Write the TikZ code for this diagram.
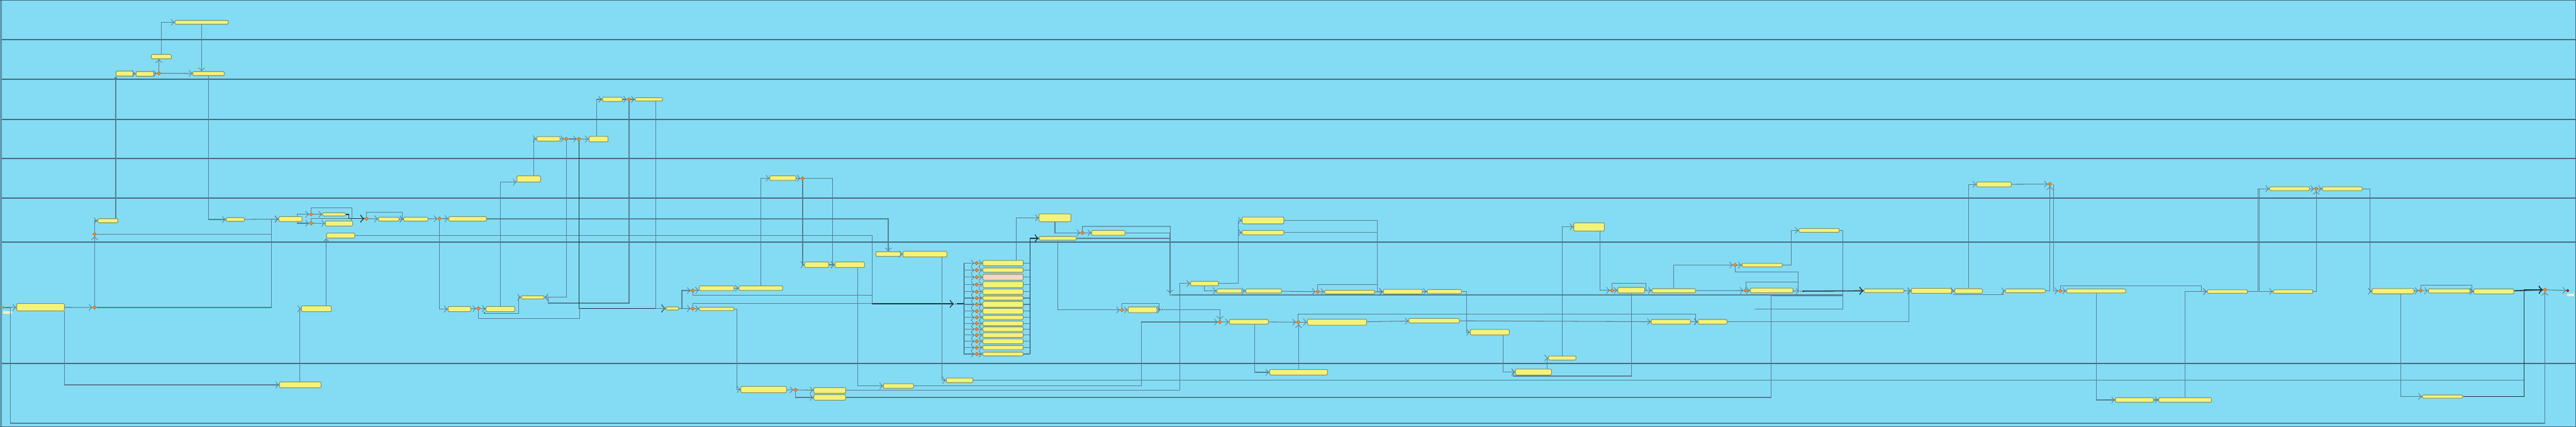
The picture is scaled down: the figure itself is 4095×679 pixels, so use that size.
\documentclass[tikz,border=0pt]{standalone}
\usetikzlibrary{shapes.geometric}
\definecolor{lanebg}{RGB}{132,220,244}
\definecolor{laneline}{RGB}{70,110,130}
\definecolor{flowc}{RGB}{88,128,148}
\definecolor{flowdark}{RGB}{35,55,65}
\definecolor{taskfill}{RGB}{243,243,122}
\definecolor{taskline}{RGB}{135,145,95}
\definecolor{gwfill}{RGB}{246,142,42}
\definecolor{gwline}{RGB}{190,100,30}
\definecolor{pinkfill}{RGB}{250,212,192}
\definecolor{lblfill}{RGB}{250,238,190}
\tikzset{
	task/.style={draw=taskline, fill=taskfill, rounded corners=0.2mm, line width=0.3pt, inner sep=0pt, minimum height=0.75mm},
	gw/.style={diamond, draw=gwline, fill=gwfill, line width=0.2pt, inner sep=0pt, minimum size=0.6mm},
	junc/.style={diamond, fill=gray, inner sep=0pt, minimum size=0.35mm},
	flowline/.style={draw=flowc, line width=0.3pt},
	flow/.style={flowline, ->},
	flowb/.style={draw=flowdark, line width=0.45pt},
	lane/.style={draw=laneline, line width=0.4pt},
	startev/.style={circle, draw=olive, fill=yellow!60!green, line width=0.2pt, inner sep=0pt, minimum size=0.35mm},
	endev/.style={circle, draw=red!60!black, fill=red!70, line width=0.3pt, inner sep=0pt, minimum size=0.35mm},
	evlabel/.style={fill=lblfill, inner sep=0pt, minimum height=0.4mm}
}
\begin{document}
\begin{tikzpicture}[x=0.1mm, y=-0.1mm]
		\useasboundingbox (0,0) rectangle (4095,679);
		%pool and lanes
		\fill[lanebg] (0,0) rectangle (4095,679);
		\foreach \y in {63, 126, 190, 252, 315, 385, 578}{
			\draw[lane] (2.7,\y)--(4095,\y);
		}
		\draw[lane] (0.6,0.6) rectangle (4094.4,678.4);
		\draw[lane] (2.7,0)--(2.7,679);
		
		%events
		\node[startev] (start) at (5.7,489){};
		\node[evlabel, minimum width=1.46mm] (startlbl) at (12,497){};
		\node[endev] (endev) at (4081.7,462.1){};
		\node[evlabel, minimum width=1.1mm] (endlbl) at (4086.7,469.3){};
		
		%tasks, left part
		\node[task, minimum width=8.5mm, minimum height=0.6mm] (a1) at (320.5,35.5){};
		\node[task, minimum width=3.2mm, minimum height=0.7mm] (a2) at (256.5,90){};
		\node[task, minimum width=2.7mm, minimum height=0.8mm] (a3) at (198,117){};
		\node[task, minimum width=2.8mm] (a4) at (230.3,117.5){};
		\node[task, minimum width=5mm, minimum height=0.65mm] (a5) at (331.5,117){};
		\node[task, minimum width=3.2mm, minimum height=0.65mm] (b1) at (171.5,351){};
		\node[task, minimum width=2.9mm, minimum height=0.6mm] (b2) at (374,349){};
		\node[task, minimum width=7.6mm, minimum height=1.16mm] (s1) at (64.5,488.5){};
		\node[task, minimum width=3.7mm, minimum height=0.8mm] (c1) at (461.7,348.3){};
		\node[task, minimum width=3.66mm, minimum height=0.5mm] (c2) at (531,340.8){};
		\node[task, minimum width=4.34mm, minimum height=0.8mm] (c3) at (539,355.3){};
		\node[task, minimum width=3.26mm, minimum height=0.64mm] (c4) at (618,348.5){};
		\node[task, minimum width=3.86mm, minimum height=0.64mm] (c5) at (661,348.5){};
		\node[task, minimum width=6mm, minimum height=0.74mm] (c6) at (743.3,348){};
		\node[task, minimum width=6.6mm, minimum height=0.94mm] (d1) at (477.3,612){};
		\node[task, minimum width=4.74mm, minimum height=0.94mm] (d2) at (503,491){};
		\node[task, minimum width=4.5mm, minimum height=0.8mm] (d3) at (541.5,374.7){};
		\node[task, minimum width=3.6mm, minimum height=0.84mm] (e1) at (730.3,491.5){};
		\node[task, minimum width=4.56mm, minimum height=0.84mm] (e2) at (795.5,491.5){};
		\node[task, minimum width=3.16mm, minimum height=0.66mm] (e3) at (973.5,158){};
		\node[task, minimum width=4.36mm, minimum height=0.54mm] (e4) at (1031.5,158){};
		\node[task, minimum width=3.7mm, minimum height=0.73mm] (e5) at (871.8,220.7){};
		\node[task, minimum width=3.04mm, minimum height=0.87mm] (e6) at (951.5,221.3){};
		\node[task, minimum width=3.76mm, minimum height=0.96mm] (e7) at (840.5,284.5){};
		\node[task, minimum width=3.63mm, minimum height=0.5mm] (e9) at (846.8,472.8){};
		\node[task, minimum width=2.03mm, minimum height=0.5mm] (e10) at (1068.8,490.5){};
		\node[task, minimum width=5.53mm] (e11) at (1139.3,458.3){};
		\node[task, minimum width=6.96mm, minimum height=0.73mm] (f7) at (1209.5,458.3){};
		\node[task, minimum width=5.53mm, minimum height=0.53mm] (e12) at (1139.3,491.3){};
		\node[task, minimum width=4.16mm, minimum height=0.73mm] (f1) at (1244.5,283.3){};
		\node[task, minimum width=3.83mm, minimum height=0.86mm] (f2) at (1298.2,421){};
		\node[task, minimum width=4.7mm, minimum height=0.86mm] (f3) at (1350.8,421){};
		\node[task, minimum width=3.94mm, minimum height=0.74mm] (f4) at (1412,404){};
		\node[task, minimum width=7mm, minimum height=0.9mm] (f5) at (1470.3,404.2){};
		\node[task, minimum width=7.26mm, minimum height=1mm] (h1) at (1214,619.3){};
		\node[task, minimum width=5.06mm, minimum height=0.9mm] (h2) at (1319,620.8){};
		\node[task, minimum width=5.06mm, minimum height=0.86mm] (h3) at (1319,632){};
		\node[task, minimum width=4.8mm, minimum height=0.73mm] (h4) at (1428.3,613.7){};
		\node[task, minimum width=4.24mm, minimum height=0.73mm] (h5) at (1525.5,604.7){};
		
		%tasks, middle part
		\node[task, minimum width=5.06mm, minimum height=1.25mm] (k0) at (1677,346.3){};
		\node[task, minimum width=5.9mm, minimum height=0.6mm] (k1) at (1681.5,379){};
		\node[task, minimum width=5.3mm, minimum height=0.78mm] (k2) at (1761.8,370.3){};
		\node[task, minimum width=4.57mm, minimum height=0.92mm] (k3) at (1816.2,492.6){};
		\node[task, minimum width=4.43mm, minimum height=0.7mm] (k4) at (1914.8,450.9){};
		\node[task, minimum width=3.97mm, minimum height=0.65mm] (k5) at (1954.2,462.7){};
		\node[task, minimum width=6.63mm, minimum height=1.08mm] (m1) at (2007.8,350.6){};
		\node[task, minimum width=6.63mm, minimum height=0.7mm] (m2) at (2007.8,369.9){};
		\node[task, minimum width=5.7mm, minimum height=0.65mm] (m4) at (2008.8,462.7){};
		\node[task, minimum width=7.96mm, minimum height=0.56mm] (m5) at (2145.5,464.5){};
		\node[task, minimum width=6.2mm, minimum height=0.73mm] (m6) at (2230,463.7){};
		\node[task, minimum width=5.46mm, minimum height=0.65mm] (m7) at (2296,463.6){};
		\node[task, minimum width=6.2mm, minimum height=0.87mm] (m8) at (2368.3,528.3){};
		\node[task, minimum width=6.2mm, minimum height=0.74mm] (n1) at (1985.3,511.7){};
		\node[task, minimum width=9.4mm, minimum height=0.95mm] (n2) at (2125.3,512.3){};
		\node[task, minimum width=8.03mm, minimum height=0.73mm] (n3) at (2279.8,510){};
		\node[task, minimum width=9.2mm, minimum height=0.87mm] (n4) at (2064.3,592){};
		\node[task, minimum width=5.73mm, minimum height=0.96mm] (p1) at (2437.7,591.6){};
		\node[task, minimum width=4.4mm, minimum height=0.65mm] (p2) at (2483.3,569.3){};
		\node[task, minimum width=4.86mm, minimum height=1.3mm] (p3) at (2526,360.8){};
		\node[task, minimum width=4.26mm, minimum height=0.9mm] (p4) at (2593,461.5){};
		\node[task, minimum width=6.9mm, minimum height=0.66mm] (p5) at (2660.8,462.3){};
		\node[task, minimum width=6.4mm, minimum height=0.56mm] (q1) at (2801.3,421.6){};
		\node[task, minimum width=6.8mm, minimum height=0.74mm] (q2) at (2816.3,461.9){};
		\node[task, minimum width=6.26mm, minimum height=0.74mm] (r1) at (2656,511.7){};
		\node[task, minimum width=4.6mm, minimum height=0.74mm] (r2) at (2722.3,511.7){};
		\node[task, minimum width=6.43mm, minimum height=0.6mm] (s2) at (2891.8,366.4){};
		
		%tasks, right part
		\node[task, minimum width=6.37mm, minimum height=0.56mm] (t1) at (2994.8,462.3){};
		\node[task, minimum width=6.4mm, minimum height=0.78mm] (t2) at (3070.3,462.5){};
		\node[task, minimum width=4.4mm, minimum height=0.74mm] (t3) at (3129.3,462.7){};
		\node[task, minimum width=6.36mm, minimum height=0.6mm] (t4) at (3219.5,462.5){};
		\node[task, minimum width=5.5mm, minimum height=0.78mm] (u1) at (3169.8,293.2){};
		\node[task, minimum width=9.43mm, minimum height=0.65mm] (v1) at (3332.2,462.7){};
		\node[task, minimum width=6.4mm, minimum height=0.56mm] (v2) at (3540.7,463.6){};
		\node[task, minimum width=6.06mm, minimum height=0.74mm] (w1) at (3393,636){};
		\node[task, minimum width=8.36mm, minimum height=0.74mm] (w2) at (3473.5,636){};
		\node[task, minimum width=6.36mm, minimum height=0.61mm] (x1) at (3639.5,300.1){};
		\node[task, minimum width=6.3mm, minimum height=0.56mm] (x2) at (3645.2,463.6){};
		\node[task, minimum width=6.36mm, minimum height=0.61mm] (x3) at (3723.5,300.1){};
		\node[task, minimum width=6.66mm, minimum height=0.83mm] (y1) at (3804,463.1){};
		\node[task, minimum width=6.6mm, minimum height=0.65mm] (y2) at (3893.3,462.7){};
		\node[task, minimum width=6.37mm, minimum height=0.78mm] (y3) at (3964.2,463.4){};
		\node[task, minimum width=6.43mm, minimum height=0.52mm] (z1) at (3882.8,630.6){};
		
		%gateways
		\node[gw] (g1) at (252.7,116.5){};
		\node[gw] (g2) at (150.4,372.3){};
		\node[gw] (g3) at (150.4,489){};
		\node[gw] (g4) at (494.7,340.7){};
		\node[gw] (g5) at (494.7,355){};
		\node[gw] (g6) at (582.7,347.7){};
		\node[gw] (g7) at (698.7,347.7){};
		\node[gw] (g8) at (760.5,490.5){};
		\node[gw] (g9) at (1000,158){};
		\node[gw] (g10) at (900.3,221){};
		\node[gw] (g11) at (920.3,221){};
		\node[gw] (g12) at (1101.3,462){};
		\node[gw] (g13) at (1101.3,490.7){};
		\node[gw] (g14) at (1276,283.7){};
		\node[gw] (g15) at (1264.7,620){};
		\node[gw] (g16) at (1720.7,370.3){};
		\node[gw] (g17) at (1783.7,492.9){};
		\node[gw] (g18) at (1939.3,512){};
		\node[gw] (g19) at (2094.7,463.8){};
		\node[gw] (g20) at (2063.7,512.3){};
		\node[gw] (g21) at (2562.7,461.7){};
		\node[gw] (g22) at (2758.3,421.4){};
		\node[gw] (g23) at (2775,462){};
		\node[gw] (g24) at (3258.7,292.8){};
		\node[gw] (g25) at (3275.3,462.5){};
		\node[gw] (g26) at (3682,300.1){};
		\node[gw] (g27) at (3848,462.1){};
		\node[gw] (g28) at (4045.7,460.8){};
		\node[junc] (j1) at (1519,483.3){};
		\node[junc] (j2) at (1860,469){};
		\node[junc] (j3) at (1847.7,492.4){};
		\node[junc] (j4) at (2862.7,463){};
		
		%fan of checks
		\foreach \i/\y/\h/\c in {1/418.4/0.87/taskfill, 2/429.5/0.7/taskfill, 3/440.8/0.96/pinkfill, 4/452.6/0.95/taskfill, 5/463.9/0.87/taskfill, 6/474/0.65/taskfill, 7/484/0.91/taskfill, 8/494.8/0.91/taskfill, 9/504.8/0.65/taskfill, 10/514.3/0.74/taskfill, 11/523.4/0.73/taskfill, 12/532.9/0.74/taskfill, 13/542.7/0.77/taskfill, 14/552.7/0.69/taskfill, 15/563/0.6/taskfill}{
			\node[gw] (fg\i) at (1552.7,\y){};
			\node[task, fill=\c, minimum width=6.44mm, minimum height=\h mm] (fb\i) at (1594.5,\y){};
		}
		\coordinate (spL) at (1532.3,483.3);
		\coordinate (spR) at (1637.3,379);
		
		%flows, top lanes
		\draw[flow] (a3)--(a4);
		\draw[flow] (a4)--(g1);
		\draw[flow] (g1.north)--(g1.north |- a2.south);
		\draw[flow] (a2.north) |- (a1.west);
		\draw[flow] (g1)--(a5);
		\draw[flow] (a1.south)--(a1.south |- a5.north);
		\draw[flow] (a5.south) |- (b2.west);
		
		%flows, start
		\draw[flow] (start)--(s1);
		\draw[flow] (start.east) -| (16.5,673) -| (g28.south);
		\draw[flow] (s1)--(g3);
		\draw[flow] (g3)--(g2);
		\draw[flow] (g2.north) |- (b1.west);
		\draw[flow] (b1.north -| a3.south west)--(a3.south west);
		\draw[flow] (b2)--(c1);
		\draw[flow] (g2.east) -| (431.7,348.3)--(c1.west);
		\draw[flow] (g3.east) -| (431.7,348.3)--(c1.west);
		\draw[flow] ([xshift=-0.1mm]s1.south east) |- (d1.west);
		\draw[flow] ([xshift=-0.1mm]d1.north) |- (d2.west);
		\draw[flow] (d3.south west |- d2.north)--(d3.south west);
		
		%flows, first checks
		\draw[flow] ([xshift=-0.87mm]c1.north east) |- (g4.west);
		\draw[flow] ([xshift=-0.87mm]c1.south east) |- (g5.west);
		\draw[flow] (g4)--(c2);
		\draw[flow] (g5)--(c3);
		\draw[flowline] (g4.north) |- (559.3,330.3)--(559.3,347.7);
		\draw[flowline] (g5.north) |- (554.3,347.7);
		\draw[flowb, ->] (c2.east) -| (554.3,347.7)--(g6.west);
		\draw[flowline] ([xshift=-0.3mm]c3.north east)--([xshift=-0.3mm]c3.north east |- g6.west);
		\draw[flow] (g6)--(c4);
		\draw[flow] (c4)--(c5);
		\draw[flow] (g6.north) |- (639.3,337.3) |- (c5.west);
		\draw[flow] (c5)--(g7);
		\draw[flow] (g7)--(c6);
		\draw[flow] (g7.south) |- (e1.west);
		\draw[flow] (e1)--(g8);
		\draw[flow] (g8)--(e2);
		\draw[flow] (c6.east) -| (f4.north);
		\draw[flowline] (d3.east) -| (1386.3,483.3);
		\draw[flowb, ->] (1386.3,483.3)--(j1.west);
		
		%flows, upper lanes loop
		\draw[flow] (e2.north) |- (e7.south west);
		\draw[flow] ([xshift=0.78mm]e7.north) |- (e5.west);
		\draw[flow] (e5)--(g10);
		\draw[flow] (g10)--(g11);
		\draw[flow] (g11)--(e6);
		\draw[flow] ([xshift=-0.32mm]e6.north) |- (e3.west);
		\draw[flow] (e3)--(g9);
		\draw[flow] (g9)--(e4);
		\draw[flow] (g9.south) |- (871.3,482) |- (e9.east);
		\draw[flow] (g10.south) |- (e9.east);
		\draw[flowb, ->] (g11.south) |- (e10.west);
		\draw[flow] ([xshift=1.08mm]e4.south) |- (e10.west);
		\draw[flow] ([xshift=-2.55mm]e2.south) |- (824.7,498.3) |- (e9.west);
		\draw[flowline] (g8.south) |- (921.7,506.3)--(921.7,490.5);
		\draw[flow] (e10.east)--++(4.5,0) |- (g12.west);
		\draw[flow] (e10)--(g13);
		\draw[flow] (g12)--(e11);
		\draw[flow] (e11)--(f7);
		\draw[flow] (f7.north) |- (f1.west);
		\draw[flowline] (g12.south) |- (1386.3,469.3)--(1386.3,483.3);
		\draw[flowline] (g13.north) |- (1386.3,482.3);
		\draw[flow] (g13)--(e12);
		\draw[flow] (f1)--(g14);
		\draw[flow] (g14.south) |- (f2.west);
		\draw[flow] (g14.east) -| ([xshift=-0.3mm]f3.west)--(f3.west);
		\draw[flow] (f2)--(f3);
		\draw[flow] ([xshift=1.29mm]f3.south) |- (h4.west);
		\draw[flow] (f4)--(f5);
		\draw[flow] ([xshift=2.74mm]f5.south) |- (h5.west);
		\draw[flow] (e12.east) -| ([xshift=-0.54mm]h1.west)--(h1.west);
		\draw[flow] (h1)--(g15);
		\draw[flow] (g15)--(h2);
		\draw[flow] (g15.south) |- (h3.west);
		
		%flows, fan
		\draw[flowb] (j1.east)--(spL);
		\draw[flowb] (spL |- fg1.west)--(spL |- fg15.west);
		\draw[flowb] (spR)--(spR |- fb15.east);
		\foreach \i in {1,...,15}{
			\draw[flow] (spL |- fg\i.west)--(fg\i.west);
			\draw[flow] (fg\i)--(fb\i);
			\draw[flowline] (fb\i.east)--(spR |- fb\i.east);
		}
		\draw[flowb, ->] (spR)--(k1.west);
		
		%flows, middle
		\draw[flow] ([xshift=2.08mm]fb1.north) |- (k0.west);
		\draw[flow] (k0.south) |- (g16.west);
		\draw[flow] (g16)--(k2);
		\draw[flowline] (g16.north) |- (1860.3,360)--(j2.north);
		\draw[flowline] (k2.east) -| (j2.north);
		\draw[flow] (k1.east) -| (j2.north);
		\draw[flow] (k1.south) |- (g17.west);
		\draw[flow] (g17)--(k3);
		\draw[flow] (g17.north) |- (1842.3,482.5) |- (j3.west);
		\draw[flow] (k3)--(j3);
		\draw[flow] (j3.east) -| (g18.north);
		\draw[flow] (h2.east) -| ([xshift=-1.7mm]k4.west)--(k4.west);
		\draw[flow] (h4.east) -| (1814.3,512)--(g18.west);
		\draw[flow] (h5.east) -| (4012.3,460.8)--(g28.west);
		\draw[flow] (h3.east) -| (2815.3,470)--(2929.3,470) |- (t1.west);
		\draw[flow] (j2.east)--(2929.3,469) |- (t1.west);
		\draw[flow] (k4.south) |- (k5.west);
		\draw[flow] (k4.east) -| (1968.3,350.6)--(m1.west);
		\draw[flow] (k4.east) -| (1968.3,369.9)--(m2.west);
		\draw[flow] (k5)--(m4);
		\draw[flow] (m4)--(g19);
		\draw[flow] (g19)--(m5);
		\draw[flow] (m5)--(m6);
		\draw[flow] (m1.east) -| (2189.3,463.7)--(m6.west);
		\draw[flow] (m2.east) -| (2189.3,463.7)--(m6.west);
		\draw[flowline] (g19.north) |- (2189.3,452.6);
		\draw[flow] (m6)--(m7);
		\draw[flow] (m7.east) -| (2331.3,528.3)--(m8.west);
		\draw[flow] (g18)--(n1);
		\draw[flow] (n1)--(g20);
		\draw[flow] ([xshift=0.9mm]n1.south) |- (n4.west);
		\draw[flow] (n4.north)--(n4.north |- g20.south);
		\draw[flow] (g20)--(n2);
		\draw[flow] (n2)--(n3);
		\draw[flow] (n3)--(r1);
		\draw[flow] (r1)--(r2);
		\draw[flow] (g20.north) |- (2695.3,499.4) |- (r2.west);
		\draw[flow] (r2.east) -| (3034.3,462.5)--(t2.west);
		
		%flows, rework loop
		\draw[flow] ([xshift=2.1mm]m8.south) |- (p1.west);
		\draw[flow] ([xshift=2.16mm]p1.north) |- (p2.west);
		\draw[flow] (p2.north) |- (p3.west);
		\draw[flow] ([xshift=1.73mm]p3.south) |- (g21.west);
		\draw[flow] (g21)--(p4);
		\draw[flowline] (g21.north) |- (2616.3,450.4)--(2616.3,461.5);
		\draw[flow] (p4)--(p5);
		\draw[flow] (p4.south) |- (2405.7,598) |- (p1.west);
		\draw[flow] (p5.north) |- (g22.west);
		\draw[flow] (g22)--(q1);
		\draw[flowline] (g22.south) |- (2858.3,432.2)--(2858.3,463);
		\draw[flow] (p5)--(g23);
		\draw[flow] (g23)--(q2);
		\draw[flowline] (g23.north) |- (2858.3,448.7);
		\draw[flow] (q2)--(j4);
		\draw[flow] (q1.east) -| (2847.3,366.4)--(s2.west);
		\draw[flowline] (s2.east) -| (2929.3,491.1)--(2790,491.1);
		\draw[flowb, ->] (j4)--(t1);
		
		%flows, right part
		\draw[flow] (t1)--(t2);
		\draw[flow] (t2)--(t3);
		\draw[flow] (t3.north) |- (u1.west);
		\draw[flow] ([xshift=-0.16mm]t3.south west) |- (3184.3,468.2) |- (t4.west);
		\draw[flow] (u1)--(g24);
		\draw[flow] (t4.east) -| (g24.south);
		\draw[flow] ([xshift=0.56mm]g24.center) |- (g25.west);
		\draw[flow] (g25)--(v1);
		\draw[flow] (g25.north) |- (3499.3,454.3) |- (v2.west);
		\draw[flow] (v1.south) |- (w1.west);
		\draw[flow] (w1)--(w2);
		\draw[flow] (w2.north) |- (v2.west);
		\draw[flow] (v2.east) -| (3589.3,300.1)--(x1.west);
		\draw[flow] ([xshift=-1.54mm]x1.west) |- (x2.west);
		\draw[flow] (x1)--(g26);
		\draw[flow] (g26)--(x3);
		\draw[flow] (x2.east) -| (g26.south);
		\draw[flow] (x3.east) -| (3767.3,463.1)--(y1.west);
		\draw[flow] (y1)--(g27);
		\draw[flow] (g27)--(y2);
		\draw[flow] (y2)--(y3);
		\draw[flow] (g27.north) |- (3929.3,453.4) |- (y3.west);
		\draw[flowb, ->] (y3)--(g28);
		\draw[flow] ([xshift=1.23mm]y1.south) |- (z1.west);
		\draw[flowb, ->] (z1.east) -| (4012.3,460.8)--(g28.west);
		\draw[flow] (g28)--(endev);
\end{tikzpicture}
\end{document}
